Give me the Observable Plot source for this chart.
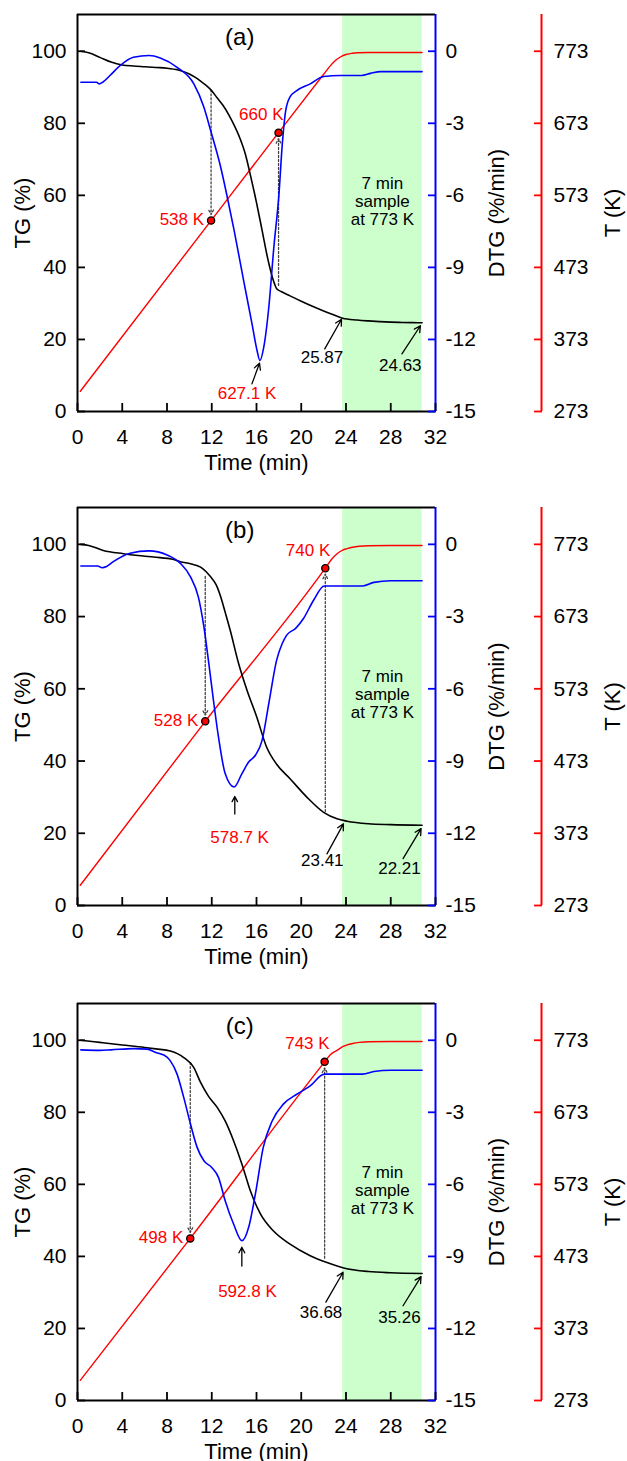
<!DOCTYPE html>
<html>
<head>
<meta charset="utf-8">
<script src="https://cdn.jsdelivr.net/npm/d3@7"></script>
<script src="https://cdn.jsdelivr.net/npm/@observablehq/plot@0.6"></script>
<style>
  html, body { margin: 0; padding: 0; background: #ffffff; }
  #chart { width: 627px; }
  #chart svg { display: block; }
  #chart svg g[aria-label$="tick label"] text { font-size: 21px; }
</style>
</head>
<body>
<div id="chart"></div>
<script>
// ---------- shared axis values ----------
const timeTicks = [0, 4, 8, 12, 16, 20, 24, 28, 32];
const tgTicks = [0, 20, 40, 60, 80, 100];
const dtgTicks = [-15, -12, -9, -6, -3, 0];
const tempTicks = [273, 373, 473, 573, 673, 773];
const holdBand = [23.7, 30.8];            // 7 min isothermal hold (min)
const holdText = "7 min\nsample\nat 773 K";
const holdTextPos = [27.25, 58.4];        // time, TG
const panelNames = ["(a)", "(b)", "(c)"];
const panelNamePos = [14.5, 104];         // time, TG

// ---------- panel (a) ----------
const tgA_t = [0.3, 1, 2, 3, 4, 5, 6, 7, 8, 9, 10, 10.5, 11, 11.5, 12, 12.5, 13, 13.5, 14, 14.5, 15, 15.5, 16, 16.5, 17, 17.5, 17.8, 18.2, 19, 20, 21, 22, 23, 23.7, 25, 26, 27, 28, 29, 30, 30.8];
const tgA = [100, 99.6, 98.3, 97, 96.2, 95.9, 95.7, 95.5, 95.3, 94.8, 93.7, 92.8, 91.7, 90.5, 89, 87, 85, 82.5, 79.5, 76, 71.5, 65, 58, 50.3, 42.5, 36.4, 34.1, 33.3, 32.1, 30.6, 29.2, 27.9, 26.7, 25.9, 25.4, 25.15, 24.95, 24.8, 24.72, 24.66, 24.63];
const dtgA_t = [0.3, 1.7, 1.95, 2.25, 2.9, 3.8, 5.0, 6.4, 7.4, 8.9, 10.4, 11.3, 11.9, 12.8, 13.4, 14.0, 14.85, 15.6, 16.05, 16.3, 16.65, 17.1, 17.55, 18.0, 18.3, 18.6, 19.0, 19.6, 20.8, 22.0, 23.5, 25.4, 26.2, 27.1, 30.8];
const dtgA = [-1.29, -1.29, -1.36, -1.29, -1.01, -0.6, -0.25, -0.18, -0.28, -0.67, -1.36, -2.33, -3.3, -4.83, -6.1, -7.46, -9.55, -11.35, -12.46, -12.88, -12.32, -10.66, -8.16, -6.0, -3.9, -2.5, -1.9, -1.64, -1.36, -1.05, -1.01, -1.01, -0.92, -0.85, -0.85];
const tempA_t = [0.25, 11.94, 17.97, 22, 22.5, 23, 23.5, 24, 24.5, 25, 26, 28, 30.8];
const tempA = [301, 538, 660, 741, 751, 759.5, 765, 768.5, 770, 771, 771.3, 771.3, 771.3];
const markA_t = [11.94, 17.97];
const markA_T = [538, 660];
const markA_from = [89.3, 35];
const peakA_t = [16.27, 15.59, 15.15];        // arrow head, arrow tail, label
const peakA_dtg = [-12.99, -13.85, -14.26];
const peakA_label = "627.1 K";
const noteA_t = [[23.6, 22.1, 21.85], [30.65, 29.0, 28.85]];
const noteA_tg = [[25.6, 17.4, 15.1], [23.8, 16.0, 12.8]];
const noteA_label = ["25.87", "24.63"];

// ---------- panel (b) ----------
const tgB_t = [0.3, 1, 2.3, 4.1, 6.8, 8.6, 9.2, 10.1, 11, 11.9, 12.4, 12.8, 13.2, 13.65, 14.4, 15.15, 16.0, 16.9, 17.8, 19.0, 20.5, 22.0, 23.2, 24.1, 26, 28, 30.8];
const tgB = [100, 99.7, 98.3, 97.4, 96.5, 95.8, 95.2, 94.6, 93.7, 91.0, 88.8, 85.5, 81.2, 76.2, 67.0, 59.6, 52.4, 43.9, 39.1, 35.1, 30.0, 25.8, 24.0, 23.35, 22.65, 22.4, 22.21];
const dtgB_t = [0.3, 1.8, 2.2, 2.6, 3.2, 4.7, 6.4, 8.0, 9.2, 10.1, 10.8, 11.3, 11.7, 12.15, 12.6, 13.2, 14.0, 14.7, 15.3, 15.9, 16.5, 17.1, 17.8, 18.3, 18.7, 19.5, 20.2, 21.1, 22.06, 25.5, 26.5, 28, 30.8];
const dtgB = [-0.9, -0.9, -0.97, -0.92, -0.72, -0.37, -0.27, -0.44, -0.79, -1.35, -2.18, -3.43, -4.81, -6.47, -8.0, -9.52, -10.08, -9.52, -9.04, -8.76, -8.14, -6.61, -4.81, -4.12, -3.77, -3.49, -3.08, -2.32, -1.73, -1.73, -1.58, -1.51, -1.51];
const tempB_t = [0.25, 11.42, 22.15, 22.7, 23.2, 23.7, 24.1, 24.6, 25.2, 26, 28, 30.8];
const tempB = [301, 528, 740, 752, 760, 765, 767, 769, 770.3, 771, 771.3, 771.3];
const markB_t = [11.42, 22.15];
const markB_T = [528, 740];
const markB_from = [91.1, 26.0];
const peakB_t = [14.06, 14.06, 14.49];
const peakB_dtg = [-10.47, -11.2, -12.16];
const peakB_label = "578.7 K";
const noteB_t = [[23.77, 22.3, 21.88], [30.71, 29.1, 28.78]];
const noteB_tg = [[22.6, 14.3, 12.5], [21.3, 13.0, 10.2]];
const noteB_label = ["23.41", "22.21"];

// ---------- panel (c) ----------
const tgC_t = [0.3, 2, 4, 6, 7, 8.3, 9.5, 10.4, 11.0, 11.7, 12.5, 13.2, 13.95, 14.7, 15.45, 16.35, 17.5, 19.0, 20.8, 22.3, 23.8, 26, 28, 30.8];
const tgC = [100, 99.4, 98.7, 98.0, 97.6, 97.0, 95.2, 92.4, 88.3, 84.5, 81.3, 77.6, 72.1, 65.6, 58.2, 51.8, 47.1, 43.4, 40.2, 38.3, 36.8, 35.8, 35.45, 35.26];
const dtgC_t = [0.3, 2, 3, 5, 6.2, 7.0, 8.0, 8.3, 8.9, 9.5, 10.1, 10.7, 11.3, 12.0, 12.6, 13.2, 13.95, 14.7, 15.3, 15.9, 16.6, 17.4, 18.4, 19.6, 20.8, 22.06, 25.5, 26.5, 28, 30.8];
const dtgC = [-0.4, -0.42, -0.4, -0.35, -0.37, -0.51, -0.7, -0.86, -1.41, -2.39, -3.49, -4.47, -5.02, -5.3, -5.71, -6.68, -7.65, -8.35, -7.79, -6.4, -4.47, -3.36, -2.66, -2.25, -1.9, -1.41, -1.41, -1.3, -1.25, -1.25];
const tempC_t = [0.25, 10.08, 22.09, 22.6, 23.2, 23.7, 24.1, 24.6, 25.2, 26, 28, 30.8];
const tempC = [301, 498, 743, 753, 759, 764, 766.5, 768.5, 770, 771, 771.3, 771.3];
const markC_t = [10.08, 22.09];
const markC_T = [498, 743];
const markC_from = [93.8, 39.5];
const peakC_t = [14.69, 14.69, 15.19];
const peakC_dtg = [-8.62, -9.4, -10.45];
const peakC_label = "592.8 K";
const noteC_t = [[23.74, 22.2, 21.77], [30.71, 29.1, 28.78]];
const noteC_tg = [[35.6, 27.3, 24.5], [34.4, 26.3, 22.9]];
const noteC_label = ["36.68", "35.26"];

// ---------- helpers ----------
const FONT = "'Liberation Sans', Arial, Helvetica, sans-serif";
const Y_TOP = 110.2;
const BLUE = "#0000ff", RED = "#ff0000", GREEN = "#ccffcc";
const toYdtg = d => 100 + d * 100 / 15;       // DTG -> primary (TG) units
const toYtemp = T => (T - 273) / 5;           // T -> primary (TG) units
const zip = (xs, ys) => xs.map((t, i) => ({t, v: ys[i]}));

function panel(p) {
  const marks = p.markT.map((t, i) => ({t, T: p.markT_T[i], from: p.markFrom[i]}));
  const peak = {ht: p.peakT[0], hv: p.peakV[0], tt: p.peakT[1], tv: p.peakV[1], lt: p.peakT[2], lv: p.peakV[2], label: p.peakLabel};
  const notes = p.noteT.map((ts, i) => ({ht: ts[0], tt: ts[1], lt: ts[2], hv: p.noteV[i][0], tv: p.noteV[i][1], lv: p.noteV[i][2], label: p.noteLabel[i]}));
  const dtgTickY = dtgTicks.map(toYdtg);
  const tempTickY = tempTicks.map(toYtemp);

  return Plot.plot({
    width: 627,
    height: p.height,
    marginLeft: 77,
    marginRight: 192,
    marginTop: p.mt,
    marginBottom: p.mb,
    x: {domain: [0, 32]},
    y: {domain: [0, Y_TOP]},
    style: {fontFamily: FONT, fontSize: "21px", background: "#ffffff", color: "#000", overflow: "visible"},
    marks: [
      // isothermal hold band
      Plot.rect([holdBand], {x1: d => d[0], x2: d => d[1], y1: () => 0, y2: () => Y_TOP, fill: GREEN}),
      Plot.text([holdText], {x: () => holdTextPos[0], y: () => holdTextPos[1], fontSize: 17, lineHeight: 1.06, fill: "#000"}),

      // frame lines
      Plot.ruleY([Y_TOP], {stroke: "#000", strokeWidth: 2}),
      Plot.ruleY([0], {stroke: "#000", strokeWidth: 2}),
      Plot.ruleX([0], {stroke: "#000", strokeWidth: 2}),
      Plot.ruleX([32], {stroke: BLUE, strokeWidth: 2}),
      Plot.ruleX([32], {stroke: RED, strokeWidth: 2, dx: 106}),

      // axes: ticks (inward) + labels
      Plot.axisX({ticks: timeTicks, tickSize: -8, tickFormat: () => "", label: null, stroke: "#000", strokeWidth: 1.8}),
      Plot.axisX({ticks: timeTicks, tickSize: 0, tickPadding: 18, label: null, fontSize: 21, fill: "#000"}),
      Plot.axisY({ticks: tgTicks, tickSize: -8, tickFormat: () => "", label: null, stroke: "#000", strokeWidth: 1.8}),
      Plot.axisY({ticks: tgTicks, tickSize: 0, tickPadding: 11, label: null, fontSize: 21, fill: "#000"}),
      Plot.axisY({anchor: "right", ticks: dtgTickY, tickSize: -8, tickFormat: () => "", label: null, stroke: BLUE, strokeWidth: 1.8}),
      Plot.axisY({anchor: "right", ticks: dtgTickY, tickSize: 0, tickPadding: 10, label: null, fontSize: 21, fill: "#000",
        tickFormat: y => String(Math.round((y - 100) * 15 / 100))}),
      Plot.axisY({anchor: "right", dx: 106, ticks: tempTickY, tickSize: -8, tickFormat: () => "", label: null, stroke: RED, strokeWidth: 1.8}),
      Plot.axisY({anchor: "right", dx: 106, ticks: tempTickY, tickSize: 0, tickPadding: 12, label: null, fontSize: 21, fill: "#000",
        tickFormat: y => String(Math.round(273 + 5 * y))}),

      // axis titles
      Plot.text(["TG (%)"], {frameAnchor: "left", rotate: -90, dx: -55, textAnchor: "middle", lineAnchor: "middle", fontSize: 22}),
      Plot.text(["DTG (%/min)"], {frameAnchor: "right", rotate: -90, dx: 61, textAnchor: "middle", lineAnchor: "middle", fontSize: 22}),
      Plot.text(["T (K)"], {frameAnchor: "right", rotate: -90, dx: 177, textAnchor: "middle", lineAnchor: "middle", fontSize: 22}),
      Plot.text(["Time (min)"], {frameAnchor: "bottom", dy: 51, textAnchor: "middle", lineAnchor: "middle", fontSize: 22}),

      // panel name
      Plot.text([p.name], {x: () => panelNamePos[0], y: () => panelNamePos[1], fontSize: 24, fill: "#000"}),

      // dotted guide arrows from TG curve to temperature markers
      Plot.arrow(marks, {x1: "t", x2: "t", y1: "from", y2: d => toYtemp(d.T), stroke: "#444", strokeWidth: 1.3,
        strokeDasharray: "2,2", headLength: 6, headAngle: 55, insetEnd: 6}),

      // curves
      Plot.line(zip(p.tempT, p.temp), {x: "t", y: d => toYtemp(d.v), stroke: RED, strokeWidth: 1.4, curve: "monotone-x"}),
      Plot.line(zip(p.tgT, p.tg), {x: "t", y: "v", stroke: "#000", strokeWidth: 1.6, curve: "monotone-x"}),
      Plot.line(zip(p.dtgT, p.dtg), {x: "t", y: d => toYdtg(d.v), stroke: BLUE, strokeWidth: 1.6, curve: "monotone-x"}),

      // temperature markers + labels
      Plot.dot(marks, {x: "t", y: d => toYtemp(d.T), r: 3.6, fill: RED, stroke: "#000", strokeWidth: 1.3}),
      Plot.text(marks.slice(0, 1), {x: "t", y: d => toYtemp(d.T), text: d => `${d.T} K`, textAnchor: "end", dx: -7, dy: -1, fill: RED, fontSize: 17}),
      Plot.text(marks.slice(1, 2), {x: "t", y: d => toYtemp(d.T), text: d => `${d.T} K`, textAnchor: "end", dx: 5, dy: -18, fill: RED, fontSize: 17}),

      // DTG peak arrow + label
      Plot.arrow([peak], {x1: "tt", y1: d => toYdtg(d.tv), x2: "ht", y2: d => toYdtg(d.hv), stroke: "#000", strokeWidth: 1.3, headLength: 8, headAngle: 55}),
      Plot.text([peak], {x: "lt", y: d => toYdtg(d.lv), text: "label", fill: RED, fontSize: 17}),

      // TG residue arrows + labels
      Plot.arrow(notes, {x1: "tt", y1: "tv", x2: "ht", y2: "hv", stroke: "#000", strokeWidth: 1.3, headLength: 8, headAngle: 55}),
      Plot.text(notes, {x: "lt", y: "lv", text: "label", fill: "#000", fontSize: 17})
    ]
  });
}

const panels = [
  {name: panelNames[0], height: 493, mt: 14, mb: 82, tgT: tgA_t, tg: tgA, dtgT: dtgA_t, dtg: dtgA, tempT: tempA_t, temp: tempA,
   markT: markA_t, markT_T: markA_T, markFrom: markA_from, peakT: peakA_t, peakV: peakA_dtg, peakLabel: peakA_label,
   noteT: noteA_t, noteV: noteA_tg, noteLabel: noteA_label},
  {name: panelNames[1], height: 495, mt: 14, mb: 83, tgT: tgB_t, tg: tgB, dtgT: dtgB_t, dtg: dtgB, tempT: tempB_t, temp: tempB,
   markT: markB_t, markT_T: markB_T, markFrom: markB_from, peakT: peakB_t, peakV: peakB_dtg, peakLabel: peakB_label,
   noteT: noteB_t, noteV: noteB_tg, noteLabel: noteB_label},
  {name: panelNames[2], height: 473, mt: 15, mb: 61, tgT: tgC_t, tg: tgC, dtgT: dtgC_t, dtg: dtgC, tempT: tempC_t, temp: tempC,
   markT: markC_t, markT_T: markC_T, markFrom: markC_from, peakT: peakC_t, peakV: peakC_dtg, peakLabel: peakC_label,
   noteT: noteC_t, noteV: noteC_tg, noteLabel: noteC_label}
];

const chart = document.getElementById("chart");
for (const p of panels) chart.appendChild(panel(p));
</script>
</body>
</html>
